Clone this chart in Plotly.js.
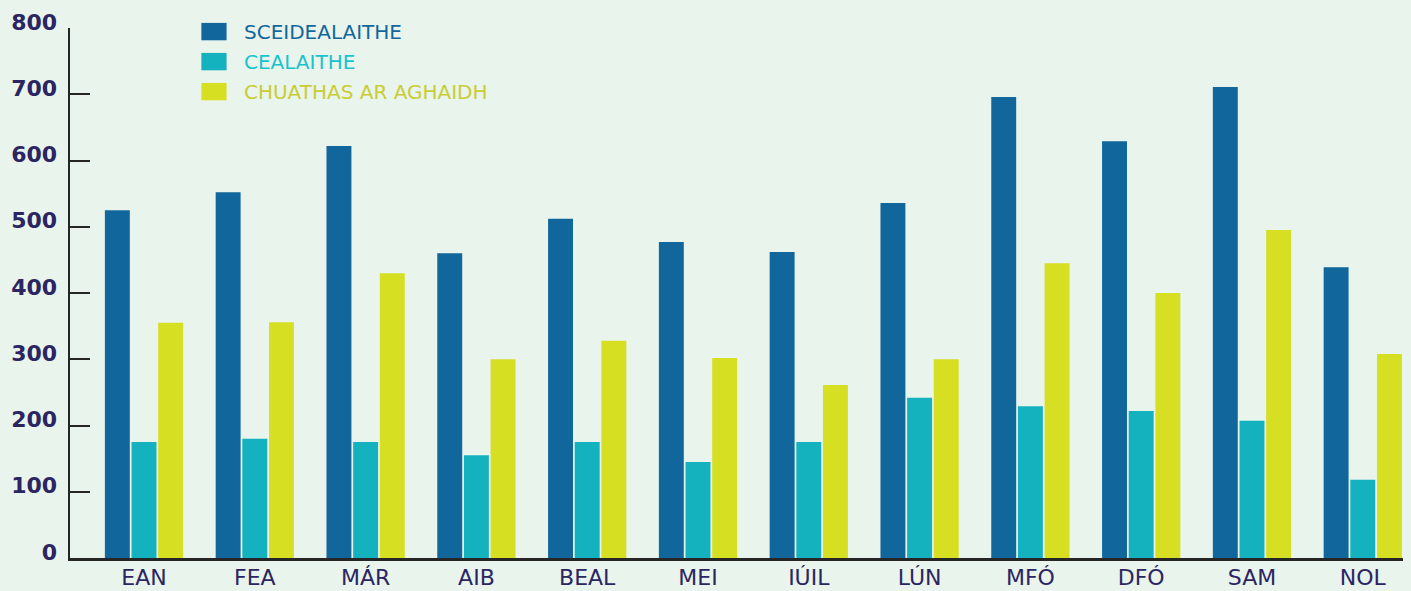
<!DOCTYPE html>
<html>
<head>
<meta charset="utf-8">
<script src="https://cdn.plot.ly/plotly-3.0.1.min.js"></script>
<style>
html,body{margin:0;padding:0;background:#E9F4EC;}
#chart{width:1411px;height:591px;}
.legend .legendbar, .legend .legendpoints path { transform: translate(20px,0px) scale(2.1,1.45); }
</style>
</head>
<body>
<div id="chart"></div>
<script>
const months = ["EAN","FEA","MÁR","AIB","BEAL","MEI","IÚIL","LÚN","MFÓ","DFÓ","SAM","NOL"];
const sceidealaithe = [525,552,622,460,512,477,462,536,696,629,711,439];
const cealaithe = [175,180,175,155,175,145,175,242,229,222,207,118];
const chuathas = [355,356,430,300,328,302,261,300,445,400,495,308];
const yTicks = [0,100,200,300,400,500,600,700,800];

const names = ["SCEIDEALAITHE","CEALAITHE","CHUATHAS AR AGHAIDH"];
const barColors = ["#11679C","#13B2BE","#D6DF22"];
const textColors = ["#11679C","#17C3CD","#C8CD35"];
const series = [sceidealaithe, cealaithe, chuathas];

const traces = series.map((vals, i) => ({
  type: "bar",
  x: months,
  y: vals,
  name: '<span style="color:' + textColors[i] + '">' + names[i] + '</span>',
  legendgroup: "g" + i,
  marker: {color: barColors[i], line: {width: 0}},
  hoverinfo: "x+y"
}));

const layout = {
  width: 1411, height: 591,
  paper_bgcolor: "#E9F4EC",
  plot_bgcolor: "#E9F4EC",
  margin: {l: 70, r: 8, t: 28, b: 33},
  barmode: "group",
  bargap: 0.278,
  bargroupgap: 0.065,
  showlegend: true,
  legend: {
    x: 0.093, y: 1.03, xanchor: "left", yanchor: "top",
    bgcolor: "rgba(0,0,0,0)",
    font: {family: "DejaVu Sans, sans-serif", size: 20, weight: 400},
    traceorder: "grouped",
    tracegroupgap: 1,
    itemwidth: 40
  },
  xaxis: {
    type: "category",
    range: [-0.668, 11.363],
    showgrid: false, zeroline: false,
    showline: true, linecolor: "#262626", linewidth: 2.5,
    ticks: "",
    tickfont: {family: "DejaVu Sans, sans-serif", size: 22, color: "#2B2562", weight: 400},
    ticklabelstandoff: -2,
    fixedrange: true
  },
  yaxis: {
    range: [0, 800],
    tickvals: yTicks,
    ticktext: yTicks.map(String),
    showgrid: false, zeroline: false,
    showline: true, linecolor: "#262626", linewidth: 2.5,
    ticks: "inside", ticklen: 20, tickwidth: 2, tickcolor: "#262626",
    tickfont: {family: "DejaVu Sans, sans-serif", size: 22, color: "#2B2562", weight: 700},
    ticklabelshift: -6,
    ticklabelstandoff: 6,
    fixedrange: true
  }
};

Plotly.newPlot("chart", traces, layout, {displayModeBar: false, staticPlot: true});
</script>
</body>
</html>
